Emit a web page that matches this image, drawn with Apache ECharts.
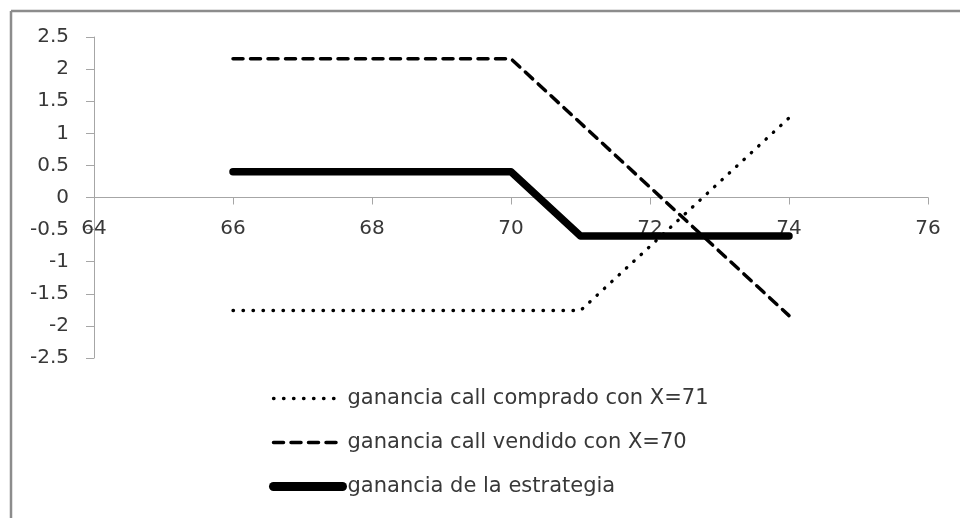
<!DOCTYPE html>
<html>
<head>
<meta charset="utf-8">
<script src="https://cdn.jsdelivr.net/npm/echarts@6/dist/echarts.min.js"></script>
<style>
  html, body { margin: 0; padding: 0; background: #fff; overflow: hidden; }
  #chart { width: 960px; height: 518px; }
</style>
</head>
<body>
<div id="chart"></div>
<script>
// Precio del subyacente al vencimiento
const precios = [66, 67, 68, 69, 70, 71, 72, 73, 74];
// Ganancia de cada posición
const callComprado = [-1.76, -1.76, -1.76, -1.76, -1.76, -1.76, -0.76, 0.24, 1.24];
const callVendido = [2.16, 2.16, 2.16, 2.16, 2.16, 1.16, 0.16, -0.84, -1.84];
const estrategia = [0.4, 0.4, 0.4, 0.4, 0.4, -0.6, -0.6, -0.6, -0.6];
const nombres = [
  'ganancia call comprado con X=71',
  'ganancia call vendido con X=70',
  'ganancia de la estrategia'
];

const pares = (ys) => precios.map((x, i) => [x, ys[i]]);

const FONT = '"DejaVu Sans", "Open Sans", sans-serif';
const AXIS_GRAY = '#a6a6a6';
const TEXT = '#383838';

// trazos de cada serie
const estiloComprado = { color: '#000', width: 3.3, type: [0.5, 9.5], cap: 'round', join: 'round' };
const estiloVendido = { color: '#000', width: 3.5, type: [10, 7.5], cap: 'round', join: 'round' };
const estiloEstrategia = { color: '#000', width: 7.5, type: 'solid', cap: 'round', join: 'round' };
const sinSimbolo = { color: 'rgba(0,0,0,0)', borderWidth: 0, opacity: 0 };

const chart = echarts.init(document.getElementById('chart'), null, { renderer: 'canvas' });

chart.setOption({
  animation: false,
  backgroundColor: '#ffffff',
  // marco del área del gráfico (bordes superior e izquierdo)
  graphic: [
    { type: 'line', shape: { x1: 11, y1: 11, x2: 960, y2: 11 },
      style: { stroke: '#8c8c8c', lineWidth: 2.5 }, silent: true },
    { type: 'line', shape: { x1: 11, y1: 11, x2: 11, y2: 518 },
      style: { stroke: '#8c8c8c', lineWidth: 2.5 }, silent: true }
  ],
  grid: { left: 94, right: 32, top: 37, bottom: 160, containLabel: false },
  xAxis: {
    type: 'value',
    min: 64, max: 76, interval: 2,
    axisLine: { onZero: true, lineStyle: { color: AXIS_GRAY, width: 1 } },
    axisTick: { show: true, inside: false, length: 7, lineStyle: { color: AXIS_GRAY } },
    axisLabel: { margin: -139, color: TEXT, fontFamily: FONT, fontSize: 20 },
    splitLine: { show: false }
  },
  yAxis: {
    type: 'value',
    min: -2.5, max: 2.5, interval: 0.5,
    axisLine: { show: true, lineStyle: { color: AXIS_GRAY, width: 1 } },
    axisTick: { show: true, inside: false, length: 8, lineStyle: { color: AXIS_GRAY } },
    axisLabel: { margin: 25, color: TEXT, fontFamily: FONT, fontSize: 20 },
    splitLine: { show: false }
  },
  legend: {
    orient: 'vertical',
    left: 264, top: 382,
    itemWidth: 69, itemHeight: 14, itemGap: 21,
    textStyle: { color: TEXT, fontFamily: FONT, fontSize: 21, lineHeight: 23 },
    data: [
      { name: nombres[0], lineStyle: estiloComprado, itemStyle: sinSimbolo },
      { name: nombres[1], lineStyle: estiloVendido, itemStyle: sinSimbolo },
      { name: nombres[2], lineStyle: Object.assign({}, estiloEstrategia, { width: 9 }), itemStyle: sinSimbolo }
    ]
  },
  series: [
    { name: nombres[0], type: 'line', data: pares(callComprado), symbol: 'none', z: 3,
      lineStyle: estiloComprado, itemStyle: { color: '#000' } },
    { name: nombres[1], type: 'line', data: pares(callVendido), symbol: 'none', z: 4,
      lineStyle: estiloVendido, itemStyle: { color: '#000' } },
    { name: nombres[2], type: 'line', data: pares(estrategia), symbol: 'none', z: 2,
      lineStyle: estiloEstrategia, itemStyle: { color: '#000' } }
  ]
});
</script>
</body>
</html>
